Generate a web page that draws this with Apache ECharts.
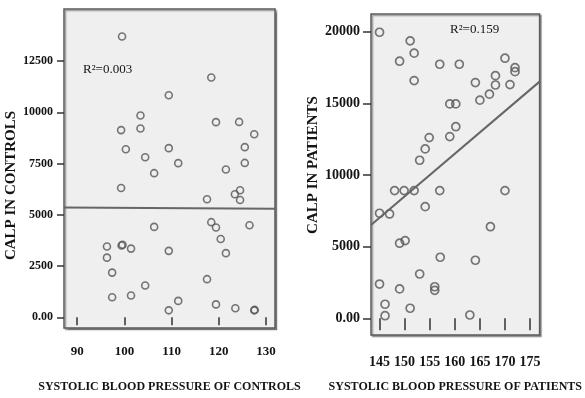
<!DOCTYPE html>
<html>
<head>
<meta charset="utf-8">
<script src="https://cdn.jsdelivr.net/npm/echarts@6/dist/echarts.min.js"></script>
<style>html,body{margin:0;padding:0;background:#fff;}#c{width:585px;height:398px;}</style>
</head>
<body>
<div id="c"></div>
<script>
// Controls panel
var ctrlSBP = [99.5,118.4,109.4,103.4,99.3,103.4,119.4,124.3,127.5,100.3,109.4,125.5,104.4,111.4,125.5,121.5,106.3,99.3,117.5,123.4,124.5,124.5,106.3,118.4,119.4,126.5,120.4,96.3,99.4,99.6,101.4,109.4,121.5,96.3,97.4,117.5,104.4,97.4,101.4,111.4,109.4,119.4,123.5,127.5,127.6];
var ctrlCALP = [13700,11700,10830,9840,9130,9210,9520,9530,8930,8200,8250,8300,7810,7520,7530,7210,7030,6310,5760,6000,6200,5720,4410,4640,4380,4490,3820,3450,3500,3540,3350,3240,3130,2910,2180,1860,1550,980,1060,800,340,630,440,340,360];
var ctrlFitX = [87.2, 131.9];
var ctrlFitY = [5350, 5300];
var ctrlXTicks = [90,100,110,120,130];
var ctrlYTicks = [0,2500,5000,7500,10000,12500];
var ctrlR2 = 'R\u00b2=0.003';

// Patients panel
var patSBP = [145.0,151.1,151.9,149.0,157.0,160.9,170.0,172.0,172.0,168.1,151.9,164.1,168.1,171.0,166.9,165.0,159.0,160.2,160.2,159.0,154.9,154.1,153.0,148.0,149.9,151.9,157.0,170.0,145.0,147.0,154.1,167.1,149.0,150.1,157.1,164.1,153.0,145.0,149.0,156.0,156.0,146.1,146.1,151.1,163.0];
var patCALP = [19960,19360,18500,17940,17730,17730,18150,17490,17210,16930,16590,16450,16280,16310,15640,15220,14960,14960,13370,12680,12610,11820,11030,8910,8910,8910,8910,8910,7330,7280,7790,6390,5240,5420,4260,4050,3090,2390,2050,2200,1950,980,180,700,230];
var patFitX = [143.3, 176.9];
var patFitY = [6512, 16515];
var patXTicks = [145,150,155,160,165,170,175];
var patYTicks = [0,5000,10000,15000,20000];
var patR2 = 'R\u00b2=0.159';

function pairs(xs, ys){ return xs.map(function(x,i){ return [x, ys[i]]; }); }

var serif = '"Liberation Serif", "DejaVu Serif", serif';
var txt = '#141414';

function yLabel(v){ return v === 0 ? '0.00' : String(v); }

var gridStyle = {
  show: true, backgroundColor: '#efefef', borderColor: '#5a5a5a', borderWidth: 1.5,
  shadowColor: 'rgba(0,0,0,0.35)', shadowBlur: 1, shadowOffsetX: 1.5, shadowOffsetY: 1.5
};

var chart = echarts.init(document.getElementById('c'), null, {renderer: 'canvas'});
chart.setOption({
  animation: false,
  backgroundColor: '#fff',
  grid: [
    Object.assign({left: 64, right: 310, top: 9, bottom: 70}, gridStyle),
    Object.assign({left: 371, right: 2, top: 14, bottom: 63}, gridStyle)
  ],
  xAxis: [
    {
      type: 'value', gridIndex: 0, min: 87.2, max: 131.9,
      splitLine: {show: false}, axisLine: {show: false},
      axisTick: {show: true, length: 8, customValues: ctrlXTicks, lineStyle: {color: '#333', width: 1.5}},
      axisLabel: {customValues: ctrlXTicks, margin: 17, fontFamily: serif, fontWeight: 'bold', fontSize: 13, color: txt},
      name: 'SYSTOLIC BLOOD PRESSURE OF CONTROLS', nameLocation: 'middle', nameGap: 53,
      nameTextStyle: {fontFamily: serif, fontWeight: 'bold', fontSize: 12, color: txt}
    },
    {
      type: 'value', gridIndex: 1, min: 143.3, max: 176.9,
      splitLine: {show: false}, axisLine: {show: false},
      axisTick: {show: true, length: 12, customValues: patXTicks, lineStyle: {color: '#333', width: 1.5}},
      axisLabel: {customValues: patXTicks, margin: 20, fontFamily: serif, fontWeight: 'bold', fontSize: 14, color: txt},
      name: 'SYSTOLIC BLOOD PRESSURE OF PATIENTS', nameLocation: 'middle', nameGap: 46,
      nameTextStyle: {fontFamily: serif, fontWeight: 'bold', fontSize: 12, color: txt}
    }
  ],
  yAxis: [
    {
      type: 'value', gridIndex: 0, min: -522, max: 15038,
      splitLine: {show: false}, axisLine: {show: false},
      axisTick: {show: true, length: 7, customValues: ctrlYTicks, lineStyle: {color: '#333', width: 1.5}},
      axisLabel: {customValues: ctrlYTicks, margin: 11, formatter: yLabel, fontFamily: serif, fontWeight: 'bold', fontSize: 12, color: txt},
      name: 'CALP IN CONTROLS', nameLocation: 'middle', nameGap: 44, nameRotate: 90,
      nameTextStyle: {fontFamily: serif, fontWeight: 'bold', fontSize: 15, color: txt, padding: [0, 34, 0, 0]}
    },
    {
      type: 'value', gridIndex: 1, min: -1166, max: 21235,
      splitLine: {show: false}, axisLine: {show: false},
      axisTick: {show: true, length: 8, customValues: patYTicks, lineStyle: {color: '#333', width: 1.5}},
      axisLabel: {customValues: patYTicks, margin: 11, formatter: yLabel, fontFamily: serif, fontWeight: 'bold', fontSize: 14, color: txt},
      name: 'CALP IN PATIENTS', nameLocation: 'middle', nameGap: 50, nameRotate: 90,
      nameTextStyle: {fontFamily: serif, fontWeight: 'bold', fontSize: 15, color: txt, padding: [0, 0, 0, 19]}
    }
  ],
  series: [
    {
      type: 'scatter', xAxisIndex: 0, yAxisIndex: 0, data: pairs(ctrlSBP, ctrlCALP),
      symbol: 'circle', symbolSize: 7,
      itemStyle: {color: 'rgba(0,0,0,0)', borderColor: '#555', borderWidth: 1.6}
    },
    {
      type: 'line', xAxisIndex: 0, yAxisIndex: 0, data: pairs(ctrlFitX, ctrlFitY),
      showSymbol: false, lineStyle: {color: '#666', width: 2}
    },
    {
      type: 'scatter', xAxisIndex: 1, yAxisIndex: 1, data: pairs(patSBP, patCALP),
      symbol: 'circle', symbolSize: 8,
      itemStyle: {color: 'rgba(0,0,0,0)', borderColor: '#555', borderWidth: 1.7}
    },
    {
      type: 'line', xAxisIndex: 1, yAxisIndex: 1, data: pairs(patFitX, patFitY),
      showSymbol: false, lineStyle: {color: '#666', width: 2}
    }
  ],
  graphic: [
    {type: 'text', left: 83, top: 63, style: {text: ctrlR2, font: '13px ' + serif, fill: txt}},
    {type: 'text', left: 450, top: 23, style: {text: patR2, font: '13px ' + serif, fill: txt}}
  ]
});
</script>
</body>
</html>
